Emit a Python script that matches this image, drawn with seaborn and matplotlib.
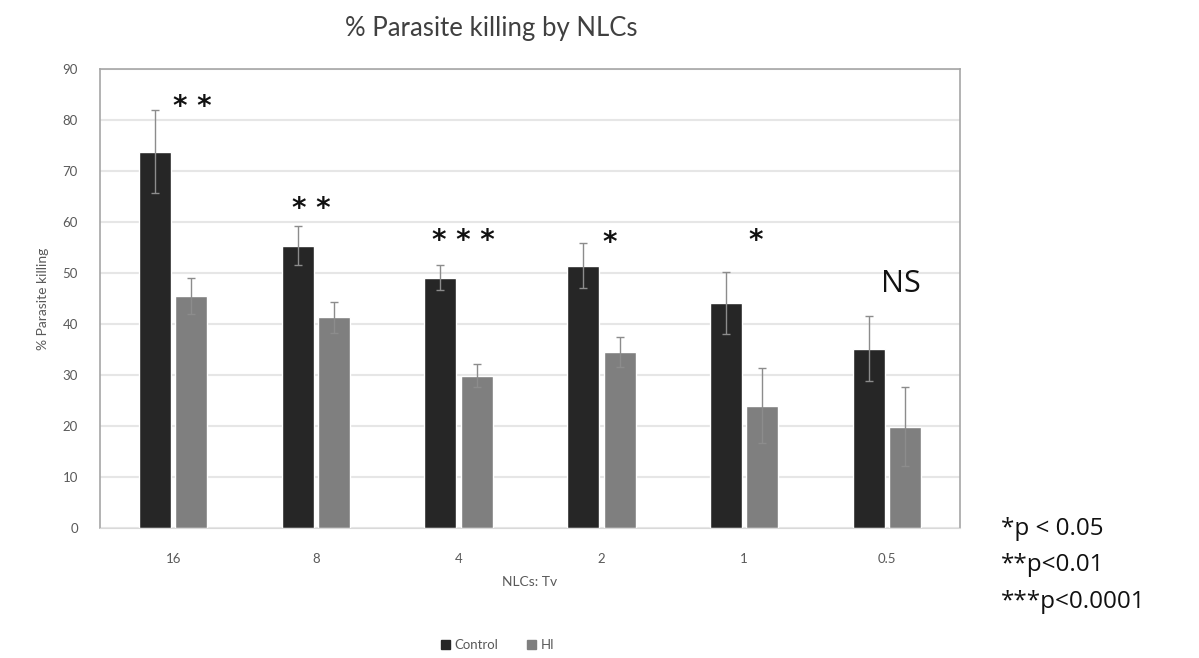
import pandas as pd
import seaborn as sns
import matplotlib.pyplot as plt
from matplotlib.patches import Patch

# data
ratios = ["16", "8", "4", "2", "1", "0.5"]
control = [73.8, 55.4, 49.1, 51.4, 44.1, 35.2]
control_err = [8.1, 3.9, 2.4, 4.4, 6.1, 6.3]
hi = [45.5, 41.3, 29.9, 34.5, 24.0, 19.9]
hi_err = [3.5, 3.1, 2.3, 3.0, 7.3, 7.8]
stars = ["* *", "* *", "* * *", "*", "*", "NS"]
star_pos = [(0.13, 82.5), (-0.035, 62.5), (0.035, 56.3), (0.06, 55.8), (0.08, 56.3), (0.1, 47.8)]

df = pd.DataFrame({
    "ratio": ratios * 2,
    "group": ["Control"] * len(ratios) + ["HI"] * len(ratios),
    "value": control + hi,
})

sns.set_style("white")
plt.rcParams["font.family"] = ["Lato", "DejaVu Sans"]

fig = plt.figure(figsize=(11.99, 6.58), dpi=100)
ax = fig.add_axes([0.0834, 0.1976, 0.7173, 0.6974])

colors = {"Control": "#262626", "HI": "#7f7f7f"}
sns.barplot(data=df, x="ratio", y="value", hue="group", order=ratios,
            palette=colors, width=0.51, gap=0.12, errorbar=None,
            legend=False, ax=ax, zorder=2)

# error bars on top of the bars
for cont, errs in zip(ax.containers, [control_err, hi_err]):
    xs = [p.get_x() + p.get_width() / 2 for p in cont.patches]
    ys = [p.get_height() for p in cont.patches]
    ax.errorbar(xs, ys, yerr=errs, fmt="none", ecolor="#8c8c8c",
                elinewidth=1, capsize=3, capthick=1, zorder=3)

for i, (s, (dx, y)) in enumerate(zip(stars, star_pos)):
    if s == "NS":
        ax.text(i + dx, y, s, ha="center", va="center", fontsize=22,
                color="#111111", family=["Open Sans", "DejaVu Sans"])
    else:
        ax.text(i + dx, y, s, ha="center", va="center", fontsize=20,
                fontweight="bold", color="#111111", family="DejaVu Sans")

ax.set_ylim(0, 90)
ax.set_yticks(range(0, 91, 10))
ax.yaxis.grid(True, color="#e6e6e6", linewidth=1.5, zorder=0)
ax.set_axisbelow(True)
ax.tick_params(axis="both", labelsize=9.5, colors="#595959", length=0)
ax.tick_params(axis="x", pad=18)
ax.tick_params(axis="y", pad=16)
for side in ["left", "right", "top"]:
    ax.spines[side].set_color("#a6a6a6")
    ax.spines[side].set_linewidth(1.2)
ax.spines["bottom"].set_color("#d9d9d9")

ax.set_xlabel("NLCs: Tv", fontsize=10, color="#595959", labelpad=8)
ax.set_ylabel("% Parasite killing", fontsize=10, color="#595959", labelpad=10)

fig.text(0.41, 0.957, "% Parasite killing by NLCs", ha="center", va="center",
         fontsize=18.5, color="#404040")

handles = [Patch(color=colors["Control"], label="Control"),
           Patch(color=colors["HI"], label="HI")]
fig.legend(handles=handles, loc="center", bbox_to_anchor=(0.415, 0.02), ncol=2,
           frameon=False, fontsize=9.5, handlelength=0.7, handleheight=0.7,
           handletextpad=0.3, columnspacing=2.2, labelcolor="#595959")

fig.text(0.835, 0.215, "*p < 0.05\n**p<0.01\n***p<0.0001", ha="left", va="top",
         fontsize=17.5, color="#111111", linespacing=1.7,
         family=["Open Sans", "DejaVu Sans"])

fig.savefig("out.png", dpi=100)
